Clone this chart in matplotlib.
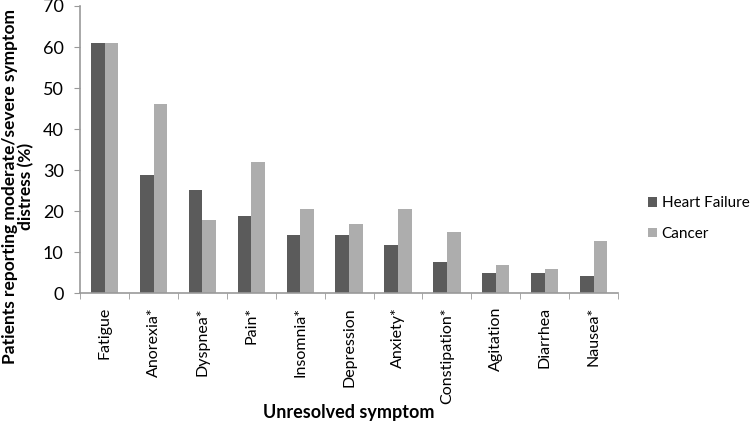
import matplotlib
matplotlib.use("Agg")
import matplotlib.pyplot as plt
import numpy as np

# Data
symptoms = ["Fatigue", "Anorexia*", "Dyspnea*", "Pain*", "Insomnia*", "Depression",
            "Anxiety*", "Constipation*", "Agitation", "Diarrhea", "Nausea*"]
heart_failure = [61, 28.8, 25.1, 18.7, 14.1, 14.1, 11.8, 7.7, 5.0, 5.0, 4.1]
cancer = [61, 46.2, 17.8, 31.9, 20.5, 16.9, 20.6, 15.0, 6.8, 5.9, 12.8]
yticks = [0, 10, 20, 30, 40, 50, 60, 70]

plt.rcParams['font.family'] = ['Lato', 'DejaVu Sans']

fig = plt.figure(figsize=(7.5, 4.28), dpi=100)
ax = fig.add_axes([0.107, 0.315, 0.717, 0.671])

x = np.arange(len(symptoms))
w = 0.28
ax.bar(x - w / 2, heart_failure, width=w, color='#5b5b5b', label='Heart Failure')
ax.bar(x + w / 2, cancer, width=w, color='#adadad', label='Cancer')

ax.set_xlim(-0.5, len(symptoms) - 0.5)
ax.set_ylim(0, 70)
ax.set_yticks(yticks)
ax.tick_params(axis='y', labelsize=13, length=4, color='#999999', pad=8)

# category labels in the middle, tick marks on the boundaries
ax.set_xticks(x)
ax.set_xticklabels(symptoms, rotation=90, fontsize=11.5)
ax.tick_params(axis='x', length=0, pad=10)
ax.set_xticks(np.arange(-0.5, len(symptoms)), minor=True)
ax.tick_params(axis='x', which='minor', length=4, color='#999999')

for s in ['top', 'right']:
    ax.spines[s].set_visible(False)
for s in ['left', 'bottom']:
    ax.spines[s].set_color('#999999')
    ax.spines[s].set_linewidth(1.2)

ax.set_ylabel('Patients reporting moderate/severe symptom\ndistress (%)',
              fontsize=12.5, fontweight='bold', linespacing=1.0)
ax.yaxis.set_label_coords(-0.085, 0.37)
ax.set_xlabel('Unresolved symptom', fontsize=13, fontweight='bold')
ax.xaxis.set_label_coords(0.5, -0.385)

ax.legend(loc='center left', bbox_to_anchor=(1.03, 0.26), frameon=False,
          fontsize=11, handlelength=0.6, handleheight=0.6, handletextpad=0.3,
          labelspacing=1.1)

fig.savefig('out.png', dpi=100)
